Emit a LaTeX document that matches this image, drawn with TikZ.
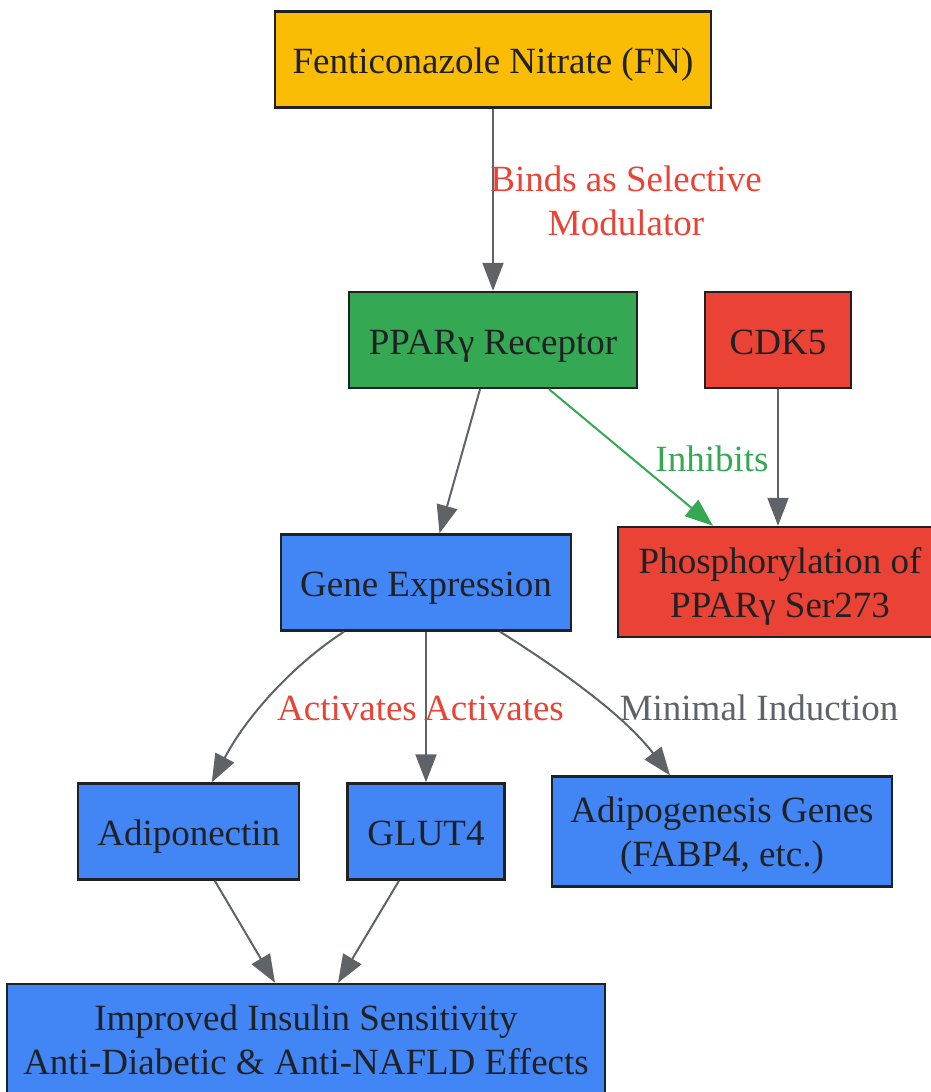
\documentclass[tikz,border=0pt]{standalone}
\usepackage{fontspec}
\setmainfont{Liberation Serif}
\usetikzlibrary{arrows.meta}

\definecolor{fnyellow}{HTML}{FBBC05}
\definecolor{ggreen}{HTML}{34A853}
\definecolor{gred}{HTML}{EA4335}
\definecolor{gblue}{HTML}{4285F4}
\definecolor{edgegray}{HTML}{5F6368}
\definecolor{inkdark}{HTML}{202124}
\newcommand{\boxfont}{\fontsize{37}{44}\selectfont}

\begin{document}
\begin{tikzpicture}[x=1pt,y=-1pt,
    box/.style={draw=inkdark, line width=2.4pt, text=inkdark, font=\boxfont,
      align=center, inner xsep=4pt, inner ysep=16pt, text height=46pt, text depth=18pt},
    twoline/.style={text height=74pt, text depth=4pt},
    lbl/.style={font=\boxfont, align=center, inner sep=0pt},
    link/.style={draw=edgegray, line width=2pt, -{Triangle[length=28pt,width=21pt]}}]
      \useasboundingbox (0,0) rectangle (930,1092);

      % boxes
      \node[box, fill=fnyellow, minimum width=436pt] (fn) at (493,59.5) {Fenticonazole Nitrate (FN)};
      \node[box, fill=ggreen, minimum width=288pt] (ppar) at (493,340) {PPARγ Receptor};
      \node[box, fill=gred, minimum width=146pt] (cdk) at (778,340) {CDK5};
      \node[box, fill=gblue, minimum width=290pt] (gene) at (426,582.5) {Gene Expression};
      \node[box, twoline, fill=gred, minimum width=324pt] (phos) at (780,582) {Phosphorylation of\\PPARγ Ser273};
      \node[box, fill=gblue, minimum width=221pt] (adipo) at (188.75,831.5) {Adiponectin};
      \node[box, fill=gblue, minimum width=157pt] (glut) at (426,831.5) {GLUT4};
      \node[box, twoline, fill=gblue, minimum width=340pt] (adipog) at (722,831.5) {Adipogenesis Genes\\(FABP4, etc.)};
      \node[box, twoline, fill=gblue, minimum width=598pt] (impr) at (306,1039) {Improved Insulin Sensitivity\\Anti-Diabetic \& Anti-NAFLD Effects};

      % connectors
      \draw[link] (fn) -- (ppar);
      \draw[link] ([xshift=-13pt]ppar.south) -- ([xshift=13.5pt]gene.north);
      \draw[link, draw=ggreen, -{Triangle[length=28pt,width=21pt,fill=ggreen]}] ([xshift=56pt]ppar.south) -- ([xshift=-67pt]phos.north);
      \draw[link] (cdk) -- (cdk |- phos.north);
      \draw[link] ([xshift=-82pt]gene.south) .. controls (300,660) and (250,710) .. ([xshift=23pt]adipo.north);
      \draw[link] (gene) -- (glut);
      \draw[link] ([xshift=74pt]gene.south) .. controls (545,660) and (620,710) .. ([xshift=-52pt]adipog.north);
      \draw[link] ([xshift=26pt]adipo.south) -- ([xshift=-31pt]impr.north);
      \draw[link] ([xshift=-27pt]glut.south) -- ([xshift=32pt]impr.north);

      % edge labels
      \node[lbl, text=gred, anchor=base] (lbinds) at (626,235) {Binds as Selective\\Modulator};
      \node[lbl, text=ggreen, anchor=base] (linhib) at (712,471) {Inhibits};
      \node[lbl, text=gred, anchor=base] (lact1) at (347,720) {Activates};
      \node[lbl, text=gred, anchor=base] (lact2) at (494,720) {Activates};
      \node[lbl, text=edgegray, anchor=base] (lmin) at (759,720) {Minimal Induction};
\end{tikzpicture}
\end{document}
